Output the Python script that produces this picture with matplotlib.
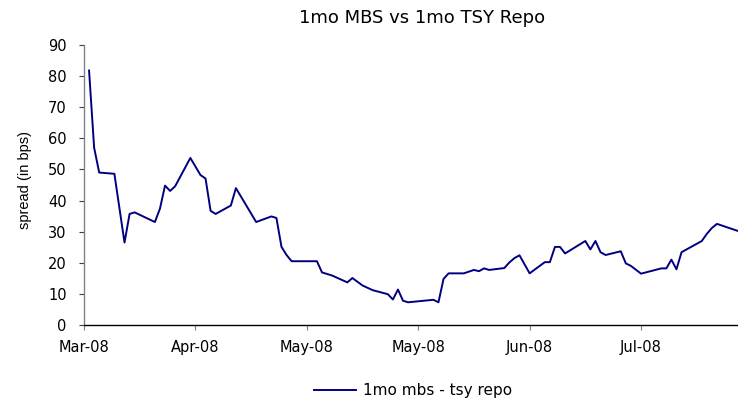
import matplotlib
matplotlib.use("Agg")
import matplotlib.pyplot as plt

# data: observation index (trading-day slot) and spread in bps
obs_index = [1, 2, 3, 6, 8, 9, 10, 14, 15, 16, 17, 18, 21, 23, 24, 25, 26, 29, 30, 34,
             37, 38, 39, 40, 41, 46, 47, 49, 52, 53, 55, 57, 60, 61, 62, 63, 64, 69, 70, 71,
             72, 75, 77, 78, 79, 80, 83, 84, 85, 86, 88, 91, 92, 93, 94, 95, 99, 100, 101, 102,
             103, 106, 107, 108, 110, 114, 115, 116, 117, 118, 122, 123, 124, 125, 129]
spread_bps = [81.8, 57.0, 49.0, 48.6, 26.5, 35.7, 36.2, 33.1, 37.4, 44.8, 43.1, 44.6, 53.7, 48.2, 47.1, 36.7, 35.7, 38.4, 44.0, 33.1,
              34.9, 34.4, 25.1, 22.5, 20.5, 20.5, 16.9, 15.9, 13.7, 15.1, 12.7, 11.2, 9.9, 8.2, 11.4, 7.8, 7.3, 8.1, 7.3, 14.8,
              16.6, 16.6, 17.7, 17.3, 18.2, 17.7, 18.3, 20.1, 21.5, 22.4, 16.6, 20.2, 20.2, 25.1, 25.1, 23.0, 27.0, 24.3, 27.0, 23.4,
              22.5, 23.7, 19.8, 19.0, 16.5, 18.2, 18.2, 21.0, 17.9, 23.4, 27.0, 29.3, 31.2, 32.5, 30.3]
tick_slots = [0, 22, 44, 66, 88, 110]
tick_labels = ["Mar-08", "Apr-08", "May-08", "May-08", "Jun-08", "Jul-08"]
y_ticks = [0, 10, 20, 30, 40, 50, 60, 70, 80, 90]
series_name = "1mo mbs - tsy repo"
title = "1mo MBS vs 1mo TSY Repo"

plt.rcParams['font.family'] = ['DejaVu Sans']

fig = plt.figure(figsize=(7.38, 4.01), dpi=100)
ax = fig.add_axes([84/738, 76/401, 654/738, 280/401])

line, = ax.plot(obs_index, spread_bps, color="#000080", linewidth=1.4, label=series_name)

ax.set_xlim(0, 129.15)
ax.set_ylim(0, 90)
ax.set_xticks(tick_slots)
ax.set_xticklabels(tick_labels)
ax.set_yticks(y_ticks)

for s in ["top", "right"]:
    ax.spines[s].set_visible(False)
ax.spines["left"].set_color("#808080")
ax.spines["bottom"].set_color("black")
ax.spines["left"].set_linewidth(1.0)
ax.spines["bottom"].set_linewidth(1.0)

ax.tick_params(axis="x", direction="out", length=3.5, color="#808080", labelsize=10.5, pad=7)
ax.tick_params(axis="y", direction="out", length=3.5, color="#404040", labelsize=10.5, pad=9)

ax.set_ylabel("spread (in bps)", family=["Liberation Sans"], fontsize=10.5)
ax.yaxis.set_label_coords(-0.079, 0.518)

fig.text(422/738, 1 - 18/401, title, ha="center", va="center", fontsize=13)

fig.legend(handles=[line], loc="center", bbox_to_anchor=(413/738, 1 - 391/401),
           frameon=False, fontsize=11, handlelength=2.8, handletextpad=0.45)

fig.savefig("out.png", dpi=100)
